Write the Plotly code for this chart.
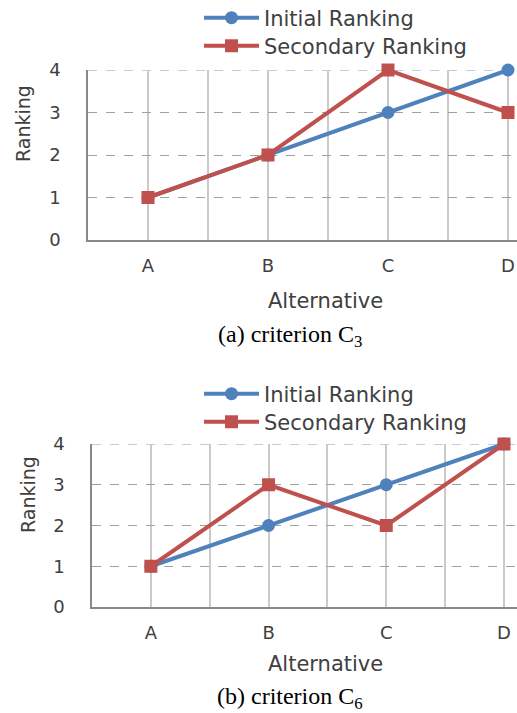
import plotly.graph_objects as go

alternatives = ["A", "B", "C", "D"]
initial_c3 = [1, 2, 3, 4]
secondary_c3 = [1, 2, 4, 3]
initial_c6 = [1, 2, 3, 4]
secondary_c6 = [1, 3, 2, 4]
y_ticks = [0, 1, 2, 3, 4]

W, H = 517, 713
BLUE = "#4F81BD"
RED = "#C0504D"
SANS = "DejaVu Sans"
SERIF = "Liberation Serif"
TXT = "#404040"

def py(px):
    return 1 - px / H

def px_(p):
    return p / W

xpos = [i + 0.5 for i in range(len(alternatives))]

fig = go.Figure()

panels = [
    dict(ini=initial_c3, sec=secondary_c3, xa="x", ya="y", lg=("legend", "legend2"),
         left=88, top=70, bottom=240, unit=120, leg_y=(18, 46), cap="(a) criterion C<sub>3</sub>",
         ytitle=(23, 124), xtitle_y=301, cap_y=336),
    dict(ini=initial_c6, sec=secondary_c6, xa="x2", ya="y2", lg=("legend3", "legend4"),
         left=92, top=444, bottom=607, unit=117.7, leg_y=(394, 422), cap="(b) criterion C<sub>6</sub>",
         ytitle=(28, 495), xtitle_y=664, cap_y=698),
]

layout_extra = {}
for k, p in enumerate(panels):
    fig.add_trace(go.Scatter(x=xpos, y=p["ini"], mode="lines+markers", name="Initial Ranking",
                             xaxis=p["xa"], yaxis=p["ya"], legend=p["lg"][0], cliponaxis=False,
                             line=dict(color=BLUE, width=4),
                             marker=dict(symbol="circle", size=13, color=BLUE)))
    fig.add_trace(go.Scatter(x=xpos, y=p["sec"], mode="lines+markers", name="Secondary Ranking",
                             xaxis=p["xa"], yaxis=p["ya"], legend=p["lg"][1], cliponaxis=False,
                             line=dict(color=RED, width=4),
                             marker=dict(symbol="square", size=13, color=RED)))
    xname = "xaxis" if k == 0 else "xaxis2"
    yname = "yaxis" if k == 0 else "yaxis2"
    xmax = (W - p["left"]) / p["unit"]
    layout_extra[xname] = dict(
        domain=[px_(p["left"]), 1], range=[0, xmax],
        anchor=p["ya"], automargin=False,
        tickvals=xpos, ticktext=alternatives,
        showgrid=True, gridcolor="#CACACA", gridwidth=1.5,
        minor=dict(tickvals=[i for i in range(len(alternatives))], showgrid=True,
                   gridcolor="#CACACA", gridwidth=1.5),
        showline=True, linecolor="#888888", linewidth=1.5,
        zeroline=False, ticks="", ticklabelstandoff=9,
        tickfont=dict(family=SANS, size=18, color=TXT),
        fixedrange=True,
    )
    layout_extra[yname] = dict(
        domain=[py(p["bottom"]), py(p["top"])], range=[0, 4],
        anchor=p["xa"], automargin=False,
        tickvals=y_ticks,
        showgrid=True, gridcolor="#A0A0A0", griddash="dash", gridwidth=1,
        showline=True, linecolor="#888888", linewidth=1.5,
        zeroline=False, ticks="", ticklabelstandoff=22,
        tickfont=dict(family=SANS, size=18, color=TXT),
        fixedrange=True,
    )
    for j, lg in enumerate(p["lg"]):
        layout_extra[lg] = dict(
            x=px_(199), y=py(p["leg_y"][j]), xanchor="left", yanchor="middle",
            bgcolor="rgba(0,0,0,0)", font=dict(family=SANS, size=21, color=TXT),
            itemwidth=55,
        )
    fig.add_annotation(text="Ranking", textangle=-90, x=px_(p["ytitle"][0]),
                       y=py(p["ytitle"][1]), xref="paper", yref="paper",
                       xanchor="center", yanchor="middle",
                       showarrow=False, font=dict(family=SANS, size=19, color=TXT))
    fig.add_annotation(text="Alternative", x=px_(325), y=py(p["xtitle_y"]), xref="paper", yref="paper",
                       xanchor="center", yanchor="middle",
                       showarrow=False, font=dict(family=SANS, size=21, color=TXT))
    fig.add_annotation(text=p["cap"], x=px_(290), y=py(p["cap_y"]), xref="paper", yref="paper",
                       xanchor="center", yanchor="middle",
                       showarrow=False, font=dict(family=SERIF, size=24, color="#000000"))
    fig.add_shape(type="line", xref=p["xa"] + " domain", yref=p["ya"], x0=0, x1=1, y0=4, y1=4,
                  line=dict(color="#7F9DBF", width=1, dash="dash"), layer="below")

fig.update_layout(width=W, height=H, margin=dict(l=0, r=0, t=0, b=0, autoexpand=False),
                  paper_bgcolor="white", plot_bgcolor="white", showlegend=True,
                  **layout_extra)

fig.write_html("out.html", config={"displayModeBar": False},
               post_script="document.body.style.margin='0';document.body.style.overflow='hidden';")
